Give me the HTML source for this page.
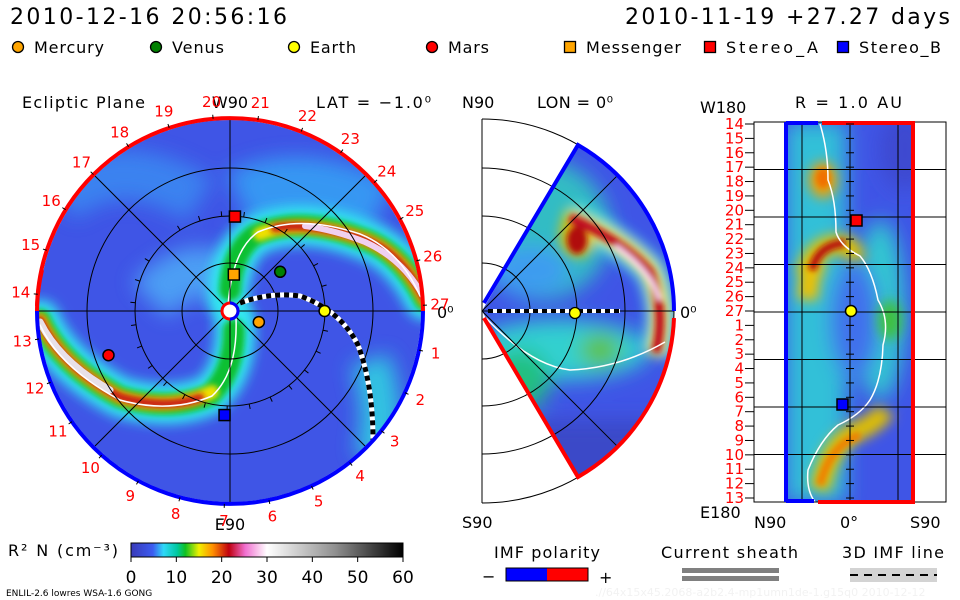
<!DOCTYPE html>
<html><head><meta charset="utf-8"><style>
html,body{margin:0;padding:0;background:#fff;width:960px;height:600px;overflow:hidden}
svg{display:block;font-family:"DejaVu Sans","Liberation Sans",sans-serif}
</style></head><body>
<svg id="s" width="960" height="600" viewBox="0 0 960 600" xmlns="http://www.w3.org/2000/svg">
<defs>
<filter id="b6" filterUnits="userSpaceOnUse" x="0" y="0" width="960" height="600"><feGaussianBlur stdDeviation="6"/></filter>
<filter id="b3" filterUnits="userSpaceOnUse" x="0" y="0" width="960" height="600"><feGaussianBlur stdDeviation="3"/></filter>
<filter id="b10" filterUnits="userSpaceOnUse" x="0" y="0" width="960" height="600"><feGaussianBlur stdDeviation="10"/></filter>
<clipPath id="diskClip"><circle cx="230" cy="311" r="191"/></clipPath>
<clipPath id="wedgeClip"><path d="M482 311 L578 145 A192 192 0 0 1 578 477 Z"/></clipPath>
<clipPath id="rectClip"><rect x="786" y="122" width="127" height="380"/></clipPath>
<linearGradient id="cbar" x1="0" x2="1" y1="0" y2="0">
<stop offset="0" stop-color="#3a3ab8"/><stop offset="0.08" stop-color="#3c5cf0"/><stop offset="0.12" stop-color="#2fd8f8"/><stop offset="0.17" stop-color="#00c8a0"/><stop offset="0.2" stop-color="#10c020"/><stop offset="0.25" stop-color="#f0f000"/><stop offset="0.3" stop-color="#ff9000"/><stop offset="0.36" stop-color="#c00010"/><stop offset="0.42" stop-color="#f070d0"/><stop offset="0.5" stop-color="#ffffff"/><stop offset="0.75" stop-color="#909090"/><stop offset="1" stop-color="#000"/>
</linearGradient>
</defs>

<text x="10" y="24" font-size="22" textLength="277" lengthAdjust="spacing">2010-12-16 20:56:16</text>
<text x="625" y="24" font-size="22" textLength="325" lengthAdjust="spacing">2010-11-19 +27.27 days</text>
<g id="legend" font-size="16"></g>

<g>
<text x="22" y="108" font-size="16" textLength="123" lengthAdjust="spacing">Ecliptic Plane</text>
<text x="316" y="108" font-size="16" textLength="115" lengthAdjust="spacing">LAT = −1.0⁰</text>
<g clip-path="url(#diskClip)">
<circle cx="230" cy="311" r="193" fill="#3f55e6"/>
<g filter="url(#b10)" opacity="0.8">
<path d="M240 200 Q300 170 380 210" stroke="#36a8f6" stroke-width="60" fill="none"/>
<path d="M60 200 Q120 150 200 200" stroke="#3a8ef2" stroke-width="50" fill="none"/>
<path d="M370 360 Q390 420 372 460" stroke="#2fe0e0" stroke-width="40" fill="none"/>
<path d="M150 300 Q200 250 230 290" stroke="#4fb0f8" stroke-width="50" fill="none"/>
</g>
<g fill="none" stroke-linecap="round">
<path d="M425 300 Q400 250 360 238 Q300 215 255 235 Q228 255 228 300" stroke="#30e8f0" stroke-width="40" filter="url(#b6)"/>
<path d="M40 320 Q60 365 120 397 Q170 412 210 395 Q238 370 235 320" stroke="#30e8f0" stroke-width="40" filter="url(#b6)"/>
<path d="M425 300 Q400 250 360 238 Q300 215 255 235 Q232 252 230 290" stroke="#10c030" stroke-width="22" filter="url(#b3)"/>
<path d="M40 320 Q60 365 120 397 Q170 412 210 395 Q234 372 234 330" stroke="#10c030" stroke-width="22" filter="url(#b3)"/>
<path d="M425 300 Q400 250 360 238 Q300 218 260 234" stroke="#f0e000" stroke-width="14" filter="url(#b3)"/>
<path d="M40 320 Q60 365 120 397 Q170 412 212 392" stroke="#f0e000" stroke-width="14" filter="url(#b3)"/>
<path d="M425 300 Q400 250 360 238 Q310 222 275 228" stroke="#c81818" stroke-width="9" filter="url(#b3)"/>
<path d="M40 320 Q60 365 120 397 Q165 410 200 398" stroke="#c81818" stroke-width="9" filter="url(#b3)"/>
<path d="M425 300 Q405 260 365 242 Q335 230 305 226" stroke="#f0d0f0" stroke-width="6"/>
<path d="M40 322 Q60 362 110 390" stroke="#e8e0e8" stroke-width="7"/>
<path d="M420 296 Q400 250 360 234 Q300 214 258 232 Q232 250 228 306" stroke="#fff" stroke-width="1.5"/>
<path d="M40 325 Q60 368 120 400 Q170 414 212 396 Q238 372 236 318" stroke="#fff" stroke-width="1.5"/>
</g>
<g id="diskGrid" stroke="#000" stroke-width="1" fill="none"></g>
<path d="M240 303 Q270 292 300 296 Q340 310 358 345 Q373 385 373 440" fill="none" stroke="#fff" stroke-width="5"/>
<path d="M240 303 Q270 292 300 296 Q340 310 358 345 Q373 385 373 440" fill="none" stroke="#000" stroke-width="5" stroke-dasharray="5,4"/>
</g>
<path d="M37 311 A193 193 0 0 1 423 311" fill="none" stroke="#ff0000" stroke-width="4"/>
<path d="M423 311 A193 193 0 0 1 37 311" fill="none" stroke="#0000ff" stroke-width="4"/>
<path d="M37 306 A193 193 0 0 1 42 270" fill="none" stroke="#ff0000" stroke-width="4"/>
<circle cx="230" cy="311" r="8" fill="#fff" stroke="#f00" stroke-width="3"/>
<path d="M230 303 A8 8 0 0 1 230 319" fill="none" stroke="#00f" stroke-width="3"/>
<text x="230" y="108" font-size="16" text-anchor="middle">W90</text>
<text x="230" y="530" font-size="16" text-anchor="middle">E90</text>
<text x="437" y="318" font-size="16">0⁰</text>
<g id="dayLabels" fill="#ff0000" font-size="15" text-anchor="middle"></g>
<g id="diskBodies"></g>
</g>

<g>
<text x="462" y="108" font-size="16">N90</text>
<text x="537" y="108" font-size="16" textLength="76" lengthAdjust="spacing">LON = 0⁰</text>
<text x="462" y="528" font-size="16">S90</text>
<text x="680" y="318" font-size="16">0⁰</text>
<g clip-path="url(#wedgeClip)">
<rect x="470" y="130" width="220" height="360" fill="#3f55e6"/>
<g filter="url(#b10)">
<ellipse cx="540" cy="230" rx="70" ry="70" fill="#30c8c0" opacity="0.9"/>
<ellipse cx="560" cy="350" rx="90" ry="30" fill="#30d0d0"/>
<ellipse cx="520" cy="380" rx="30" ry="30" fill="#20c080"/>
<ellipse cx="600" cy="350" rx="20" ry="15" fill="#60c020"/>
<ellipse cx="530" cy="270" rx="40" ry="25" fill="#3c9cf0"/>
<rect x="470" y="420" width="220" height="80" fill="#3a48c8"/>
</g>
<g filter="url(#b6)" fill="none">
<path d="M570 215 Q620 240 650 270 Q670 310 655 355" stroke="#30e0e0" stroke-width="30"/>
<path d="M565 215 Q625 240 650 270 Q668 310 655 355" stroke="#f0e000" stroke-width="16"/>
<ellipse cx="578" cy="235" rx="18" ry="22" fill="#e0c000"/>
</g>
<g filter="url(#b3)" fill="none">
<path d="M570 218 Q625 242 650 272 Q666 310 656 352" stroke="#c01020" stroke-width="9"/>
<ellipse cx="577" cy="240" rx="10" ry="14" fill="#b01010"/>
<path d="M615 246 Q650 270 660 300" stroke="#f8d8f8" stroke-width="5"/>
</g>
<path d="M486 318 Q530 365 570 370 Q620 368 665 342" fill="none" stroke="#fff" stroke-width="1.5"/>
<g id="wedgeGrid" stroke="#000" stroke-width="1" fill="none"></g>
</g>
<g id="wedgeGridOut" stroke="#000" stroke-width="1" fill="none"></g>
<path d="M484 303 L578 145 A192 192 0 0 1 674 311" fill="none" stroke="#00f" stroke-width="4"/>
<path d="M484 318 L578 477 A192 192 0 0 0 674 318" fill="none" stroke="#f00" stroke-width="4"/>
<line x1="488" y1="311" x2="620" y2="311" stroke="#fff" stroke-width="4"/>
<line x1="488" y1="311" x2="620" y2="311" stroke="#000" stroke-width="4" stroke-dasharray="5,4"/>
<circle cx="575" cy="313" r="5.5" fill="#ffff00" stroke="#000" stroke-width="1.3"/>
</g>

<g>
<text x="795" y="108" font-size="16" textLength="107" lengthAdjust="spacing">R = 1.0 AU</text>
<text x="700" y="113" font-size="16">W180</text>
<text x="700" y="518" font-size="16">E180</text>
<text x="754" y="528" font-size="16">N90</text>
<text x="840" y="528" font-size="16">0°</text>
<text x="910" y="528" font-size="16">S90</text>
<g clip-path="url(#rectClip)">
<rect x="786" y="122" width="127" height="380" fill="#3f55e6"/>
<g filter="url(#b10)">
<rect x="786" y="122" width="60" height="380" fill="#30c0d8"/>
<ellipse cx="880" cy="310" rx="25" ry="90" fill="#30c8d0"/>
<ellipse cx="855" cy="320" rx="25" ry="60" fill="#4070ec"/>
<ellipse cx="905" cy="150" rx="25" ry="40" fill="#3c48d0"/>
</g>
<g filter="url(#b6)">
<ellipse cx="823" cy="180" rx="14" ry="18" fill="#f0a000"/>
<path d="M805 275 Q815 240 845 245 Q855 250 855 260" fill="none" stroke="#e0c000" stroke-width="20"/>
<path d="M808 300 Q808 270 820 260" fill="none" stroke="#f0c000" stroke-width="20"/>
<path d="M820 490 Q830 440 860 430 Q880 420 885 410" fill="none" stroke="#e0c000" stroke-width="20"/>
<ellipse cx="890" cy="320" rx="12" ry="20" fill="#40c040"/>
</g>
<g filter="url(#b3)">
<path d="M812 270 Q818 245 845 243" fill="none" stroke="#b81010" stroke-width="8"/>
<ellipse cx="823" cy="178" rx="7" ry="10" fill="#f07000"/>
<path d="M820 485 Q830 445 860 435" fill="none" stroke="#f08000" stroke-width="8"/>
</g>
<path d="M820 124 Q828 150 828 180 Q836 200 836 232 Q840 246 860 256 Q872 270 878 300 Q890 320 883 345 Q882 380 870 400 Q860 415 838 425 Q820 440 808 470 Q806 490 815 502" fill="none" stroke="#fff" stroke-width="1.5"/>
</g>
<g id="rectGrid" stroke="#000" stroke-width="1"></g>
<line x1="786" y1="122" x2="786" y2="502" stroke="#00f" stroke-width="4"/>
<path d="M786 123 H818" stroke="#00f" stroke-width="4"/>
<path d="M822 123 H913 V502 H818" stroke="#f00" stroke-width="4" fill="none"/>
<path d="M786 501 H814" stroke="#00f" stroke-width="4"/>
<g id="rectLabels" fill="#ff0000" font-size="15" text-anchor="end"></g>
<rect x="851" y="215" width="11" height="11" fill="#f00" stroke="#000" stroke-width="1.5"/>
<circle cx="851" cy="311" r="5.5" fill="#ffff00" stroke="#000" stroke-width="1.5"/>
<rect x="837" y="399" width="11" height="11" fill="#00f" stroke="#000" stroke-width="1.5"/>
</g>

<g>
<text x="8" y="556" font-size="16" textLength="110" lengthAdjust="spacing">R² N (cm⁻³)</text>
<rect x="131" y="543" width="272" height="14" fill="url(#cbar)" stroke="#000" stroke-width="1"/>
<g id="cbTicks" font-size="17" text-anchor="middle"></g>
<text x="6" y="596" font-size="9">ENLIL-2.6 lowres WSA-1.6 GONG</text>
</g>

<g font-size="16">
<text x="494" y="558" textLength="106" lengthAdjust="spacing">IMF polarity</text>
<text x="482" y="582">−</text>
<rect x="506" y="568" width="41" height="13" fill="#00f"/>
<rect x="547" y="568" width="41" height="13" fill="#f00"/>
<rect x="506" y="568" width="82" height="13" fill="none" stroke="#000"/>
<text x="599" y="583">+</text>
<text x="661" y="558" textLength="137" lengthAdjust="spacing">Current sheath</text>
<rect x="682" y="568" width="97" height="5" fill="#808080"/>
<rect x="682" y="576" width="97" height="5" fill="#808080"/>
<text x="842" y="558" textLength="102" lengthAdjust="spacing">3D IMF line</text>
<rect x="850" y="568" width="87" height="14" fill="#d3d3d3"/>
<line x1="850" y1="575" x2="937" y2="575" stroke="#000" stroke-width="2" stroke-dasharray="8,6"/>
<text x="595" y="596" font-size="11" fill="#f2f2f2">.//64x15x45.2068-a2b2.4-mp1umn1de-1.g15q0   2010-12-12</text>
</g>
</svg>
<script>
const NS="http://www.w3.org/2000/svg";
const legendNames=["Mercury","Venus","Earth","Mars","Messenger","Stereo_A","Stereo_B"];
const legendColors=["#ffa500","#008000","#ffff00","#ff0000","#ffa500","#ff0000","#0000ff"];
const legendX=[18,156,294,432,570,710,843];
const legendW=[70,52,46,41,95,92,82];
const dayLabels=[1,2,3,4,5,6,7,8,9,10,11,12,13,14,15,16,17,18,19,20,21,22,23,24,25,26,27];
const dayStartDeg=11.7;
const dayStepDeg=13.33;
const cbTicks=[0,10,20,30,40,50,60];
const rectDayLabels=[14,15,16,17,18,19,20,21,22,23,24,25,26,27,1,2,3,4,5,6,7,8,9,10,11,12,13];
const bodyNames=["stereo-a","messenger","venus","mercury","earth","mars","stereo-b"];
const bodyR=[0.49,0.19,0.33,0.16,0.49,0.67,0.54];
const bodyAngle=[-87,-84,-38,21,0,160,93];
const bodyShape=["sq","sq","c","c","c","c","sq"];
const bodyColors=["#ff0000","#ffa500","#008000","#ffa500","#ffff00","#ff0000","#0000ff"];
function el(t,a,p){const e=document.createElementNS(NS,t);for(const k in a)e.setAttribute(k,a[k]);p.appendChild(e);return e;}
const lg=document.getElementById('legend');
legendNames.forEach((n,i)=>{
 const x=legendX[i];let m;
 if(i<4)m=el('circle',{cx:x,cy:47,r:5.5,fill:legendColors[i],stroke:'#000','stroke-width':1.3},lg);
 else m=el('rect',{x:x-5.5,y:41.5,width:11,height:11,fill:legendColors[i],stroke:'#000','stroke-width':1.3},lg);
 
 
 const t=el('text',{x:x+16,y:53,textLength:legendW[i],lengthAdjust:'spacing'},lg);t.textContent=n;
 
 
});
const CX=230,CY=311,R=193;
const dg=document.getElementById('diskGrid');
[48,95,143].forEach(r=>el('circle',{cx:CX,cy:CY,r:r},dg));
[0,45,90,135].forEach(a=>{const c=Math.cos(a*Math.PI/180),s=Math.sin(a*Math.PI/180);el('line',{x1:CX-R*c,y1:CY-R*s,x2:CX+R*c,y2:CY+R*s},dg);});
for(let k=0;k<27;k++){const a=(dayStartDeg+k*dayStepDeg)*Math.PI/180;el('line',{x1:CX+95*Math.cos(a),y1:CY+95*Math.sin(a),x2:CX+100*Math.cos(a),y2:CY+100*Math.sin(a)},dg);}
const dl=document.getElementById('dayLabels');
dayLabels.forEach((d,i)=>{const a=(dayStartDeg+i*dayStepDeg)*Math.PI/180;
 const t=el('text',{x:CX+210*Math.cos(a),y:CY+210*Math.sin(a)+5},dl);t.textContent=d;
 
 
 el('line',{x1:CX+R*Math.cos(a),y1:CY+R*Math.sin(a),x2:CX+(R+4)*Math.cos(a),y2:CY+(R+4)*Math.sin(a),stroke:'#000'},dl);
});
const db=document.getElementById('diskBodies');
bodyNames.forEach((n,i)=>{const a=bodyAngle[i]*Math.PI/180,r=bodyR[i]*R;
 const x=CX+r*Math.cos(a),y=CY+r*Math.sin(a);let m;
 if(bodyShape[i]=='sq')m=el('rect',{x:x-5.5,y:y-5.5,width:11,height:11,fill:bodyColors[i],stroke:'#000','stroke-width':1.5},db);
 else m=el('circle',{cx:x,cy:y,r:5.5,fill:bodyColors[i],stroke:'#000','stroke-width':1.5},db);
 
 
});
const WX=482,WY=311;
const wo=document.getElementById('wedgeGridOut');
[48,95,143,192].forEach(r=>el('path',{d:`M${WX} ${WY-r} A${r} ${r} 0 0 1 ${WX} ${WY+r}`},wo));
el('line',{x1:WX,y1:WY-192,x2:WX,y2:WY+192},wo);
const wg=document.getElementById('wedgeGrid');
[-45,0,45].forEach(a=>{const t=a*Math.PI/180;el('line',{x1:WX,y1:WY,x2:WX+200*Math.cos(t),y2:WY+200*Math.sin(t)},wg);});
const rg=document.getElementById('rectGrid');
el('rect',{x:754,y:122,width:192,height:380,fill:'none'},rg);
const rowH=380/8;
for(let k=1;k<8;k++)el('line',{x1:754,y1:122+k*rowH,x2:946,y2:122+k*rowH},rg);
[802,850,898].forEach(x=>el('line',{x1:x,y1:122,x2:x,y2:502},rg));
const rl=document.getElementById('rectLabels');
rectDayLabels.forEach((d,i)=>{const y=124+i*(374/26);
 el('line',{x1:745,y1:y,x2:754,y2:y,stroke:'#000'},rl);
 el('line',{x1:846,y1:y,x2:854,y2:y,stroke:'#000'},rl);
 const t=el('text',{x:744,y:y+5},rl);t.textContent=d;
 
 
});
const cb=document.getElementById('cbTicks');
cbTicks.forEach(v=>{const x=131+v/60*272;
 el('line',{x1:x,y1:557,x2:x,y2:562,stroke:'#000'},cb);
 const t=el('text',{x:x,y:583},cb);t.textContent=v;
 
 
});
</script>
</body></html>
